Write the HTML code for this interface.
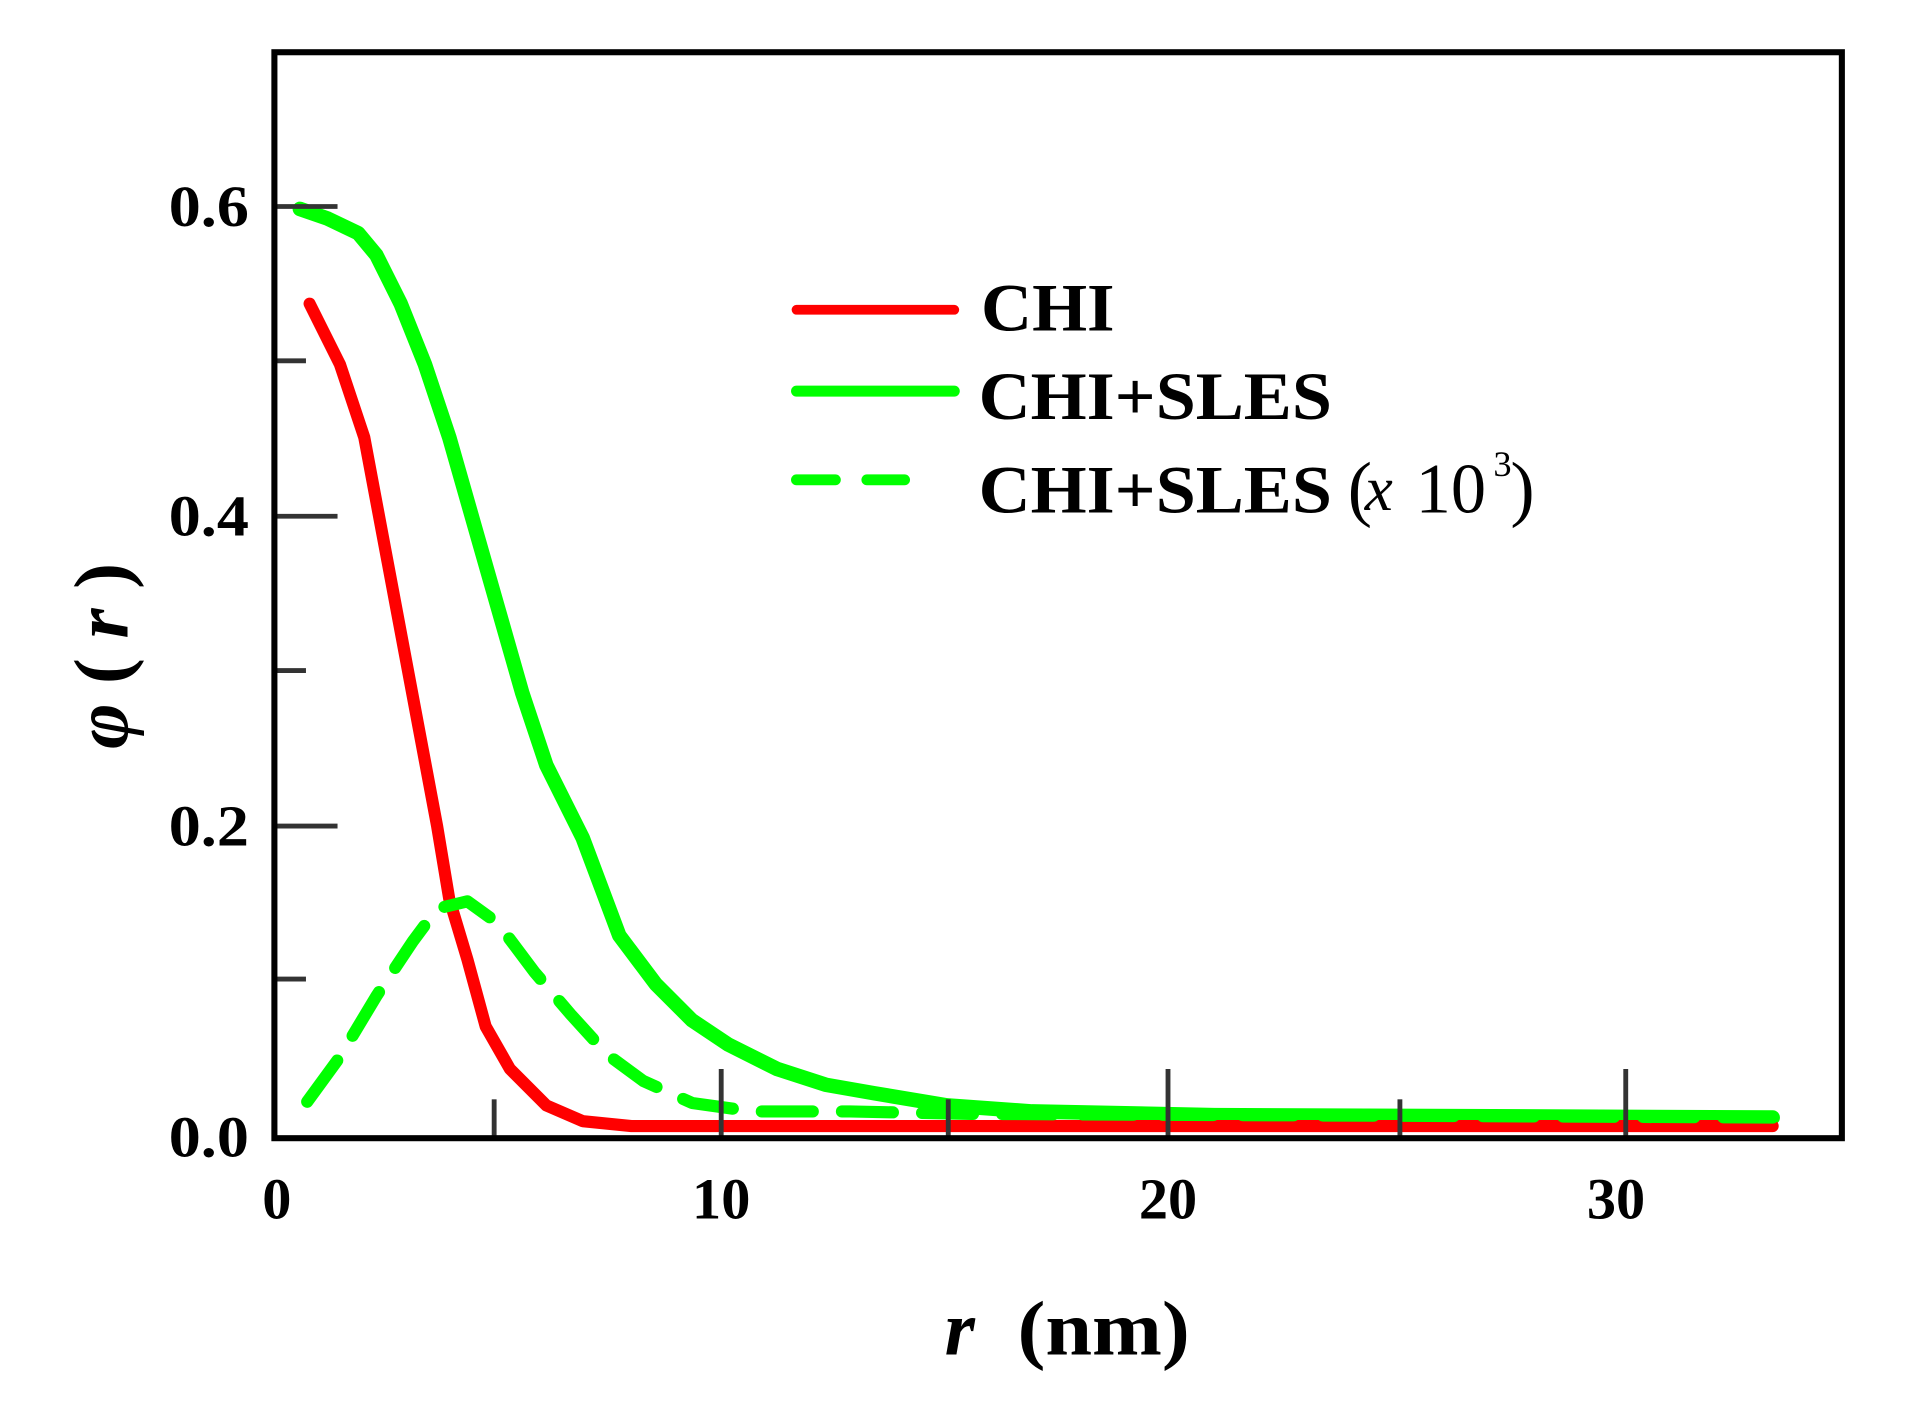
<!DOCTYPE html>
<html><head><style>html,body{margin:0;padding:0;background:#fff}svg{display:block}</style></head>
<body>
<svg width="1905" height="1403" viewBox="0 0 1569 1155" preserveAspectRatio="none" xmlns="http://www.w3.org/2000/svg" font-family="Liberation Serif, serif" font-weight="bold">
<rect width="1569" height="1155" fill="#fff"/>
<g stroke-linecap="round" stroke-linejoin="round" fill="none">
<polyline stroke="#0f0" stroke-width="12" points="247,172 270,180 295,192 310,210 330,250 350,300 370,360 390,430 410,500 430,570 450,630 480,690 510,770 540,810 570,840 600,860 640,880 680,893 720,900 780,910 850,915 1000,918 1460,920"/>
<polyline stroke="#f00" stroke-width="10" points="255,250 280,300 300,360 315,440 330,520 345,600 360,680 370,740 385,790 400,845 420,880 450,910 480,923 520,927 1460,927"/>
<polyline stroke="#0f0" stroke-width="10" stroke-dasharray="42,24" points="253,907 280,870 310,820 340,775 360,748 385,742 410,760 440,800 470,835 500,868 530,890 570,908 620,915 700,915 800,917 1460,920"/>
<line x1="656" y1="255" x2="786" y2="255" stroke="#f00" stroke-width="8"/>
<line x1="656" y1="322" x2="786" y2="322" stroke="#0f0" stroke-width="9"/>
<line x1="656" y1="395" x2="688" y2="395" stroke="#0f0" stroke-width="9"/>
<line x1="714" y1="395" x2="745" y2="395" stroke="#0f0" stroke-width="9"/>
</g>
<g stroke="#333" stroke-width="4">
<line x1="228" y1="170" x2="278" y2="170"/><line x1="228" y1="425" x2="278" y2="425"/><line x1="228" y1="680" x2="278" y2="680"/>
<line x1="228" y1="297" x2="252" y2="297"/><line x1="228" y1="552" x2="252" y2="552"/><line x1="228" y1="806" x2="252" y2="806"/>
<line x1="594" y1="935" x2="594" y2="880"/><line x1="962" y1="935" x2="962" y2="880"/><line x1="1339" y1="935" x2="1339" y2="880"/>
<line x1="407" y1="935" x2="407" y2="905"/><line x1="781" y1="935" x2="781" y2="905"/><line x1="1153" y1="935" x2="1153" y2="905"/>
</g>
<rect x="226" y="43" width="1291" height="894" fill="none" stroke="#000" stroke-width="5"/>
<g font-size="48" text-anchor="end">
<text x="205" y="186" textLength="66" lengthAdjust="spacingAndGlyphs">0.6</text><text x="205" y="441" textLength="66" lengthAdjust="spacingAndGlyphs">0.4</text><text x="205" y="696" textLength="66" lengthAdjust="spacingAndGlyphs">0.2</text><text x="205" y="952" textLength="66" lengthAdjust="spacingAndGlyphs">0.0</text>
</g>
<g font-size="48" text-anchor="middle">
<text x="228" y="1003">0</text><text x="594" y="1003">10</text><text x="962" y="1003">20</text><text x="1331" y="1003">30</text>
</g>
<text x="778" y="1115" font-size="64" font-style="italic">r</text>
<text x="838" y="1115" font-size="64" textLength="142" lengthAdjust="spacingAndGlyphs">(nm)</text>
<text transform="translate(105,540) rotate(-90)" font-size="64" text-anchor="middle"><tspan font-style="italic">φ</tspan> ( <tspan font-style="italic">r</tspan> )</text>
<g font-size="56">
<text x="808" y="272" textLength="110" lengthAdjust="spacingAndGlyphs">CHI</text>
<text x="806" y="345" textLength="291" lengthAdjust="spacingAndGlyphs">CHI+SLES</text>
<text x="806" y="422" textLength="291" lengthAdjust="spacingAndGlyphs">CHI+SLES</text>
<text x="1110" y="422" font-weight="normal" font-size="60">(</text>
<text x="1124" y="420" font-style="italic" font-weight="normal" font-size="52">x</text>
<text x="1166" y="422" font-weight="normal" font-size="58">10</text>
<text x="1230" y="392" font-weight="normal" font-size="30">3</text>
<text x="1244" y="422" font-weight="normal" font-size="60">)</text>
</g>
</svg>
</body></html>
